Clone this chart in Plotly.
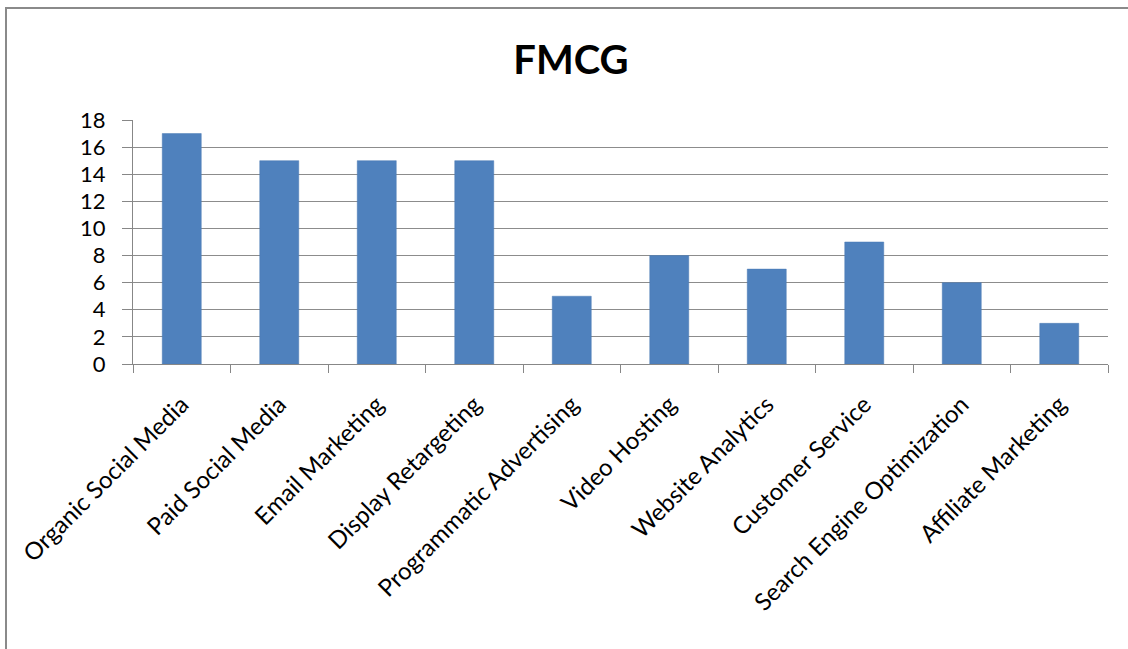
import plotly.graph_objects as go

categories = [
    "Organic Social Media", "Paid Social Media", "Email Marketing",
    "Display Retargeting", "Programmatic Advertising", "Video Hosting",
    "Website Analytics", "Customer Service", "Search Engine Optimization",
    "Affiliate Marketing",
]
counts = [17, 15, 15, 15, 5, 8, 7, 9, 6, 3]
y_ticks = list(range(0, 19, 2))

W, H = 1128, 649
L, R, T, B = 133, 20, 120, 285
pw, ph = W - L - R, H - T - B

fig = go.Figure(go.Bar(
    x=categories, y=counts,
    marker=dict(color="#4F81BD", line=dict(color="#4A7AB5", width=0.5)),
))

font = "Lato, 'Open Sans', sans-serif"

fig.update_layout(
    width=W, height=H,
    margin=dict(l=L, r=R, t=T, b=B),
    paper_bgcolor="white", plot_bgcolor="white",
    bargap=0.6,
    showlegend=False,
    title=dict(text="<b>FMCG</b>", x=571 / W, xanchor="center",
               y=1 - 60 / H, yanchor="middle",
               font=dict(family=font, size=40, color="black")),
    font=dict(family=font, color="black"),
)

fig.update_xaxes(
    type="category", tickson="boundaries", ticks="outside", ticklen=8,
    tickcolor="#878787", tickwidth=1,
    showline=True, linecolor="#878787", linewidth=1,
    tickangle=-45, tickfont=dict(size=24, family=font, color="black"),
    ticklabelstandoff=16,
    showgrid=False,
)
fig.update_yaxes(
    range=[0, 18], tickvals=y_ticks, ticks="outside", ticklen=10,
    tickcolor="#878787", showline=True, linecolor="#878787", linewidth=1,
    showgrid=True, gridcolor="#8C8C8C", gridwidth=1,
    tickfont=dict(size=22, family=font, color="black"),
    ticklabelstandoff=12,
    zeroline=False,
)

# Outer chart frame (extends past the right and bottom page edges)
fig.add_shape(
    type="rect", xref="paper", yref="paper",
    x0=(6 - L) / pw, x1=(W + 20 - L) / pw,
    y0=-(H + 20 - (H - B)) / ph, y1=((H - B) - 8) / ph,
    line=dict(color="#8A8A8A", width=2), fillcolor="rgba(0,0,0,0)",
    layer="below",
)

fig.write_html("out.html")
